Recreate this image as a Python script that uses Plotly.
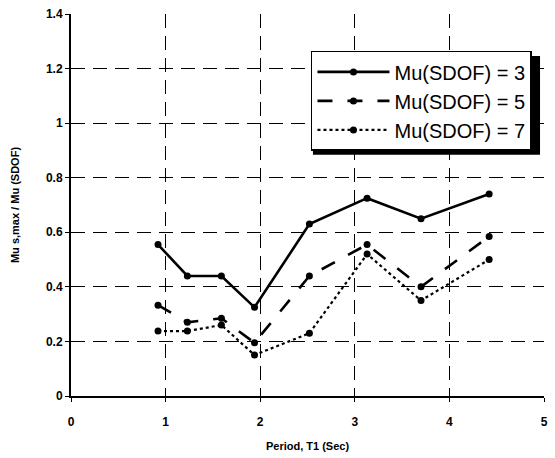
import plotly.graph_objects as go

period = [0.92, 1.23, 1.59, 1.94, 2.52, 3.13, 3.70, 4.42]
mu3 = [0.555, 0.44, 0.44, 0.325, 0.63, 0.725, 0.65, 0.74]
mu5 = [0.333, 0.27, 0.285, 0.195, 0.44, 0.555, 0.40, 0.585]
mu7 = [0.238, 0.238, 0.26, 0.15, 0.23, 0.52, 0.35, 0.50]
names = ["Mu(SDOF) = 3", "Mu(SDOF) = 5", "Mu(SDOF) = 7"]
x_ticks = [0, 1, 2, 3, 4, 5]
x_labels = ["0", "1", "2", "3", "4", "5"]
y_ticks = [0, 0.2, 0.4, 0.6, 0.8, 1, 1.2, 1.4]
y_labels = ["0", "0.2", "0.4", "0.6", "0.8", "1", "1.2", "1.4"]

fig = go.Figure()
styles = [("solid", 2.6, 7), ("longdash", 2.6, 7), ("dot", 2.2, 7)]
for i, (ys, nm) in enumerate(zip([mu3, mu5, mu7], names)):
    dash, w, ms = styles[i]
    fig.add_trace(go.Scatter(
        x=period, y=ys, name=nm, mode="lines+markers",
        line=dict(color="black", width=w, dash=dash),
        marker=dict(color="black", size=ms, symbol="circle"),
        legendgroup=nm,
    ))

grid = dict(showgrid=True, gridcolor="black", gridwidth=1.2, griddash="14px,8px")
tfont = dict(size=12, family="Liberation Sans, Arial", color="black")
fig.update_xaxes(range=[0, 5], tickvals=x_ticks, ticktext=[f"<b>{t}</b>" for t in x_labels],
                 ticks="outside", ticklen=4, ticklabelstandoff=10,
                 tickcolor="black", showline=True, linecolor="black", linewidth=2,
                 zeroline=False,
                 title=dict(text="<b>Period, T1 (Sec)</b>", font=dict(size=11, family="Liberation Sans, Arial", color="black"), standoff=14),
                 tickfont=tfont, **grid)
fig.update_yaxes(range=[0, 1.4], tickvals=y_ticks, ticktext=[f"<b>{t}</b>" for t in y_labels],
                 ticks="outside", ticklen=4,
                 tickcolor="black", showline=True, linecolor="black", linewidth=2,
                 zeroline=False,
                 title=dict(text="<b>Mu s,max / Mu (SDOF)</b>", font=dict(size=11, family="Liberation Sans, Arial", color="black"), standoff=24),
                 tickfont=tfont, **grid)

# legend shadow
fig.add_shape(type="rect", xref="paper", yref="paper",
              x0=(315 - 71) / 477, x1=(544 - 71) / 477,
              y0=(397 - 155) / 383, y1=(397 - 56) / 383,
              fillcolor="black", line=dict(width=0), layer="above")

fig.update_layout(
    width=555, height=458,
    margin=dict(l=71, r=7, t=14, b=61),
    plot_bgcolor="white", paper_bgcolor="white",
    showlegend=True,
    legend=dict(x=(313 - 71) / 477, y=(397 - 51) / 383, xanchor="left", yanchor="top",
                bgcolor="white", bordercolor="black", borderwidth=1.5,
                font=dict(size=20, family="Liberation Sans, Arial", color="black"),
                itemwidth=72, traceorder="grouped", tracegroupgap=0),
)
fig.write_html("out.html")
